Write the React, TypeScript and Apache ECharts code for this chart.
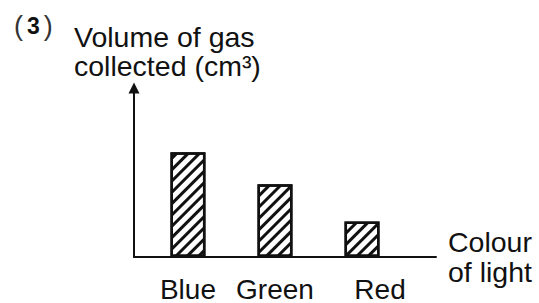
import React, { useEffect, useRef } from "react";
import * as echarts from "echarts";

const CATEGORIES: string[] = ["Blue", "Green", "Red"];
const VOLUMES: number[] = [6.2, 4.3, 2.1];
const Y_AXIS_TITLE = "Volume of gas\ncollected (cm³)";
const X_AXIS_TITLE = "Colour\nof light";
const QUESTION_NUMBER = "3";

const FONT = "'Liberation Sans', Arial, Helvetica, sans-serif";
const INK = "#111";

export default function App() {
  const ref = useRef<HTMLDivElement>(null);

  useEffect(() => {
    if (!ref.current) return;
    const chart = echarts.init(ref.current, undefined, { renderer: "svg" });
    const positions = CATEGORIES.map((_, i) => i + 1);
    const last = CATEGORIES.length - 1;
    chart.setOption({
      animation: false,
      backgroundColor: "#fff",
      textStyle: { fontFamily: FONT, color: INK },
      title: [
        {
          text: Y_AXIS_TITLE,
          left: 74,
          top: 22,
          padding: 0,
          textStyle: { fontSize: 28.5, lineHeight: 29, fontWeight: "normal", color: INK, fontFamily: FONT },
        },
      ],
      graphic: [
        {
          type: "text",
          left: 14,
          top: 12,
          style: {
            text: `{p|(}{b|${QUESTION_NUMBER}}{p|)}`,
            rich: {
              p: { fontSize: 27, fill: "#333", fontFamily: FONT, lineHeight: 30 },
              b: { fontSize: 23, fontWeight: "bold", fill: INK, fontFamily: FONT, padding: [0, 4], lineHeight: 30 },
            },
          },
        },
      ],
      grid: { left: 134, right: 103, top: 88, bottom: 43.5, containLabel: false },
      xAxis: {
        type: "value",
        min: 0.38,
        max: 3.85,
        name: X_AXIS_TITLE,
        nameLocation: "end",
        nameGap: 12,
        nameTextStyle: {
          fontSize: 28.5,
          lineHeight: 30,
          color: INK,
          fontFamily: FONT,
          align: "left",
          verticalAlign: "middle",
          padding: [26, 0, 0, 0],
        },
        axisLine: { show: true, onZero: true, lineStyle: { color: INK, width: 2 } },
        axisTick: { show: false },
        splitLine: { show: false },
        axisLabel: {
          show: true,
          customValues: positions,
          margin: 18,
          fontSize: 28,
          color: INK,
          fontFamily: FONT,
          formatter: (v: number) => {
            const i = Math.round(v) - 1;
            const name = CATEGORIES[i] ?? "";
            return i === last ? `{s|${name}}` : name;
          },
          rich: {
            s: { fontSize: 28, color: INK, fontFamily: FONT, padding: [0, 0, 0, 36] },
          },
        },
      },
      yAxis: {
        type: "value",
        min: 0,
        max: 10,
        axisLine: {
          show: true,
          symbol: ["none", "triangle"],
          symbolSize: [11, 11],
          lineStyle: { color: INK, width: 2 },
        },
        axisTick: { show: false },
        axisLabel: { show: false },
        splitLine: { show: false },
      },
      series: [
        {
          type: "bar",
          barWidth: 35,
          data: VOLUMES.map((v, i) => [positions[i], v]),
          itemStyle: {
            color: "#fff",
            borderColor: INK,
            borderWidth: 2.5,
            decal: {
              symbol: "rect",
              symbolSize: 1,
              dashArrayX: [1, 0],
              dashArrayY: [3, 5],
              rotation: -Math.PI / 4,
              color: INK,
              backgroundColor: "#fff",
            },
          },
        },
      ],
    });
    return () => chart.dispose();
  }, []);

  return (
    <div
      ref={ref}
      style={{ position: "fixed", left: 0, top: 0, width: 539, height: 303, background: "#fff" }}
    />
  );
}
